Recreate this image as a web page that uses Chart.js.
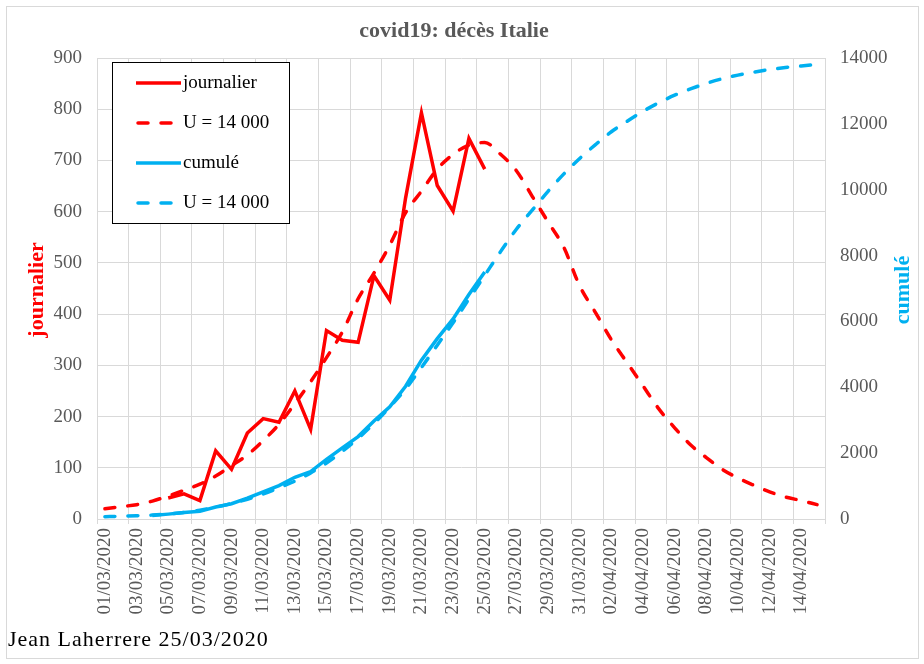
<!DOCTYPE html>
<html>
<head>
<meta charset="utf-8">
<script src="https://cdn.jsdelivr.net/npm/chart.js@4"></script>
<style>
  html, body { margin: 0; padding: 0; background: #fff; }
  #wrap { position: relative; width: 924px; height: 664px; }
</style>
</head>
<body>
<div id="wrap"><canvas id="myChart" width="924" height="664"></canvas></div>
<script>
// dates du 01/03/2020 au 15/04/2020
const dates = ['01/03/2020','02/03/2020','03/03/2020','04/03/2020','05/03/2020','06/03/2020','07/03/2020','08/03/2020','09/03/2020','10/03/2020',
  '11/03/2020','12/03/2020','13/03/2020','14/03/2020','15/03/2020','16/03/2020','17/03/2020','18/03/2020','19/03/2020','20/03/2020',
  '21/03/2020','22/03/2020','23/03/2020','24/03/2020','25/03/2020','26/03/2020','27/03/2020','28/03/2020','29/03/2020','30/03/2020',
  '31/03/2020','01/04/2020','02/04/2020','03/04/2020','04/04/2020','05/04/2020','06/04/2020','07/04/2020','08/04/2020','09/04/2020',
  '10/04/2020','11/04/2020','12/04/2020','13/04/2020','14/04/2020','15/04/2020'];

// décès journaliers observés
const journalier = [null, null, null, null, 41, 49, 36, 133, 97, 168,
  196, 189, 250, 175, 368, 349, 345, 475, 427, 627,
  793, 651, 601, 743, 683, null, null, null, null, null,
  null, null, null, null, null, null, null, null, null, null,
  null, null, null, null, null, null];

// modèle journalier U = 14 000
const modeleJour = [20, 24, 28, 35, 45, 56, 68, 84, 104, 125,
  153, 185, 225, 268, 315, 365, 430, 480, 535, 598,
  640, 683, 712, 730, 735, 712, 680, 630, 580, 530,
  455, 403, 350, 305, 260, 215, 178, 145, 120, 97,
  80, 66, 53, 43, 36, 28];

// décès cumulés observés
const cumule = [null, null, null, 107, 148, 197, 233, 366, 463, 631,
  827, 1016, 1266, 1441, 1809, 2158, 2503, 2978, 3405, 4032,
  4825, 5476, 6077, 6820, 7503, null, null, null, null, null,
  null, null, null, null, null, null, null, null, null, null,
  null, null, null, null, null, null];

// modèle cumulé U = 14 000
const modeleCumul = [70, 85, 100, 120, 150, 195, 270, 360, 470, 600,
  760, 950, 1150, 1400, 1700, 2050, 2450, 2900, 3400, 3950,
  4600, 5280, 5960, 6680, 7400, 8120, 8800, 9380, 9950, 10480,
  10950, 11370, 11760, 12080, 12380, 12640, 12870, 13060, 13230, 13370,
  13480, 13570, 13650, 13710, 13760, 13800];

const ROUGE = '#FF0000';
const BLEU = '#00B0F0';
const GRIS = '#595959';
const GRILLE = '#d9d9d9';
const POLICE = "'Liberation Serif', 'Times New Roman', serif";
const TIRETS = [10, 13];

const decor = {
  id: 'decor',
  afterDraw(chart) {
    const c = chart.ctx;
    c.save();
    // cadre
    c.strokeStyle = GRILLE;
    c.lineWidth = 1;
    c.strokeRect(6.5, 6.5, 912, 652);

    // titre
    c.fillStyle = GRIS;
    c.font = 'bold 22px ' + POLICE;
    c.textAlign = 'center';
    c.textBaseline = 'middle';
    c.fillText('covid19: décès Italie', 454, 31);

    // titres des axes
    c.font = 'bold 22px ' + POLICE;
    c.save();
    c.translate(37, 290);
    c.rotate(-Math.PI / 2);
    c.fillStyle = ROUGE;
    c.fillText('journalier', 0, 0);
    c.restore();
    c.save();
    c.translate(903, 290);
    c.rotate(-Math.PI / 2);
    c.fillStyle = BLEU;
    c.fillText('cumulé', 0, 0);
    c.restore();

    // légende
    c.fillStyle = '#fff';
    c.fillRect(112.5, 62.5, 177, 161);
    c.strokeStyle = '#000';
    c.lineWidth = 1;
    c.strokeRect(112.5, 62.5, 177, 161);
    const rows = [
      {label: chart.data.datasets[0].label, color: ROUGE, dash: []},
      {label: chart.data.datasets[1].label, color: ROUGE, dash: TIRETS},
      {label: chart.data.datasets[2].label, color: BLEU, dash: []},
      {label: chart.data.datasets[3].label, color: BLEU, dash: TIRETS}
    ];
    rows.forEach((r, i) => {
      const y = 83 + i * 40;
      c.beginPath();
      c.strokeStyle = r.color;
      c.lineWidth = 3.5;
      c.lineCap = r.dash.length ? 'round' : 'butt';
      c.setLineDash(r.dash);
      c.moveTo(r.dash.length ? 138 : 136, y);
      c.lineTo(181, y);
      c.stroke();
      c.setLineDash([]);
      c.fillStyle = '#000';
      c.font = '19px ' + POLICE;
      c.textAlign = 'left';
      c.fillText(r.label, 183, y);
    });

    // auteur
    c.fillStyle = '#000';
    c.font = '22px ' + POLICE;
    c.textAlign = 'left';
    c.letterSpacing = '1px';
    c.fillText('Jean Laherrere 25/03/2020', 8, 640);
    c.restore();
  }
};

const ctx = document.getElementById('myChart');

var myChart = new Chart(ctx, {
  type: 'line',
  data: {
    labels: dates,
    datasets: [{
      label: 'journalier',
      data: journalier,
      borderColor: ROUGE,
      borderWidth: 3.5,
      yAxisID: 'y',
    }, {
      label: 'U = 14 000',
      data: modeleJour,
      borderColor: ROUGE,
      borderWidth: 3.5,
      borderDash: TIRETS,
      borderCapStyle: 'round',
      cubicInterpolationMode: 'monotone',
      yAxisID: 'y',
    }, {
      label: 'cumulé',
      data: cumule,
      borderColor: BLEU,
      borderWidth: 3.5,
      yAxisID: 'y1',
    }, {
      label: 'U = 14 000',
      data: modeleCumul,
      borderColor: BLEU,
      borderWidth: 3.5,
      borderDash: TIRETS,
      borderCapStyle: 'round',
      cubicInterpolationMode: 'monotone',
      yAxisID: 'y1',
    }]
  },
  options: {
    responsive: false,
    animation: false,
    elements: { point: { radius: 0 }, line: { tension: 0 } },
    layout: { padding: { top: 58, left: 0, right: 0, bottom: 0 } },
    plugins: {
      legend: { display: false },
      tooltip: { enabled: false },
      title: { display: false },
    },
    scales: {
      x: {
        offset: true,
        afterFit: s => { s.height = 145; },
        grid: {
          offset: true,
          tickLength: 5,
          color: c => (c.index % 2 ? 'rgba(0,0,0,0)' : GRILLE),
          tickColor: c => (c.index % 2 ? 'rgba(0,0,0,0)' : GRILLE),
        },
        border: { color: GRILLE },
        ticks: {
          autoSkip: false,
          maxRotation: 90,
          minRotation: 90,
          padding: 4,
          color: GRIS,
          font: { family: POLICE, size: 19 },
          callback: (v, i) => (i % 2 ? '' : dates[i]),
        },
      },
      y: {
        position: 'left',
        min: 0,
        max: 900,
        afterFit: s => { s.width = 97; },
        grid: { color: GRILLE, drawTicks: false },
        border: { color: GRILLE },
        ticks: {
          stepSize: 100,
          padding: 15,
          color: GRIS,
          font: { family: POLICE, size: 19 },
        },
      },
      y1: {
        position: 'right',
        min: 0,
        max: 14000,
        afterFit: s => { s.width = 99; },
        grid: { drawOnChartArea: false, drawTicks: false },
        border: { color: GRILLE },
        ticks: {
          stepSize: 2000,
          padding: 15,
          color: GRIS,
          font: { family: POLICE, size: 19 },
          callback: v => String(v),
        },
      },
    },
  },
  plugins: [decor],
});
</script>
</body>
</html>
